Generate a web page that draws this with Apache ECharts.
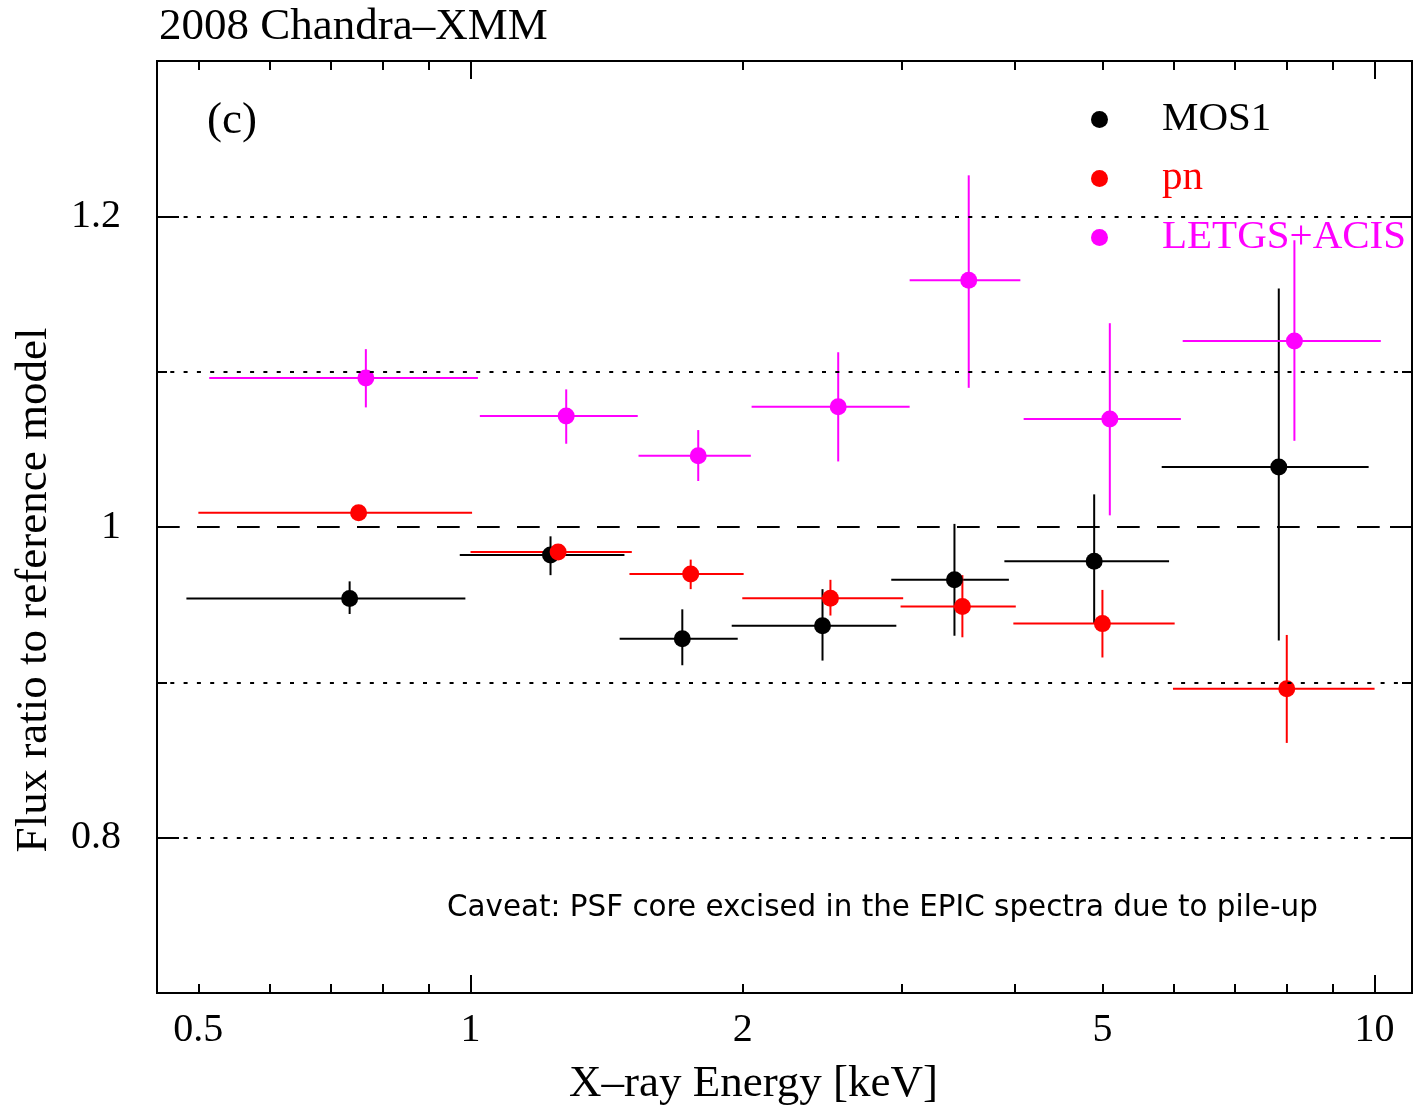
<!DOCTYPE html>
<html>
<head>
<meta charset="utf-8">
<title>2008 Chandra–XMM flux ratios</title>
<script src="https://cdn.jsdelivr.net/npm/echarts@6/dist/echarts.min.js"></script>
<style>
  html, body { margin: 0; padding: 0; background: #fff; }
  #chart { width: 1415px; height: 1105px; }
</style>
</head>
<body>
<div id="chart"></div>
<script>
// Energy bins (keV): centre, lower and upper bin edges; flux ratio with its error range.
const mos1Energy   = [0.735, 1.226, 1.715, 2.451, 3.43, 4.896, 7.835];
const mos1EnergyLo = [0.485, 0.973, 1.462, 1.945, 2.92, 3.895, 5.815];
const mos1EnergyHi = [0.987, 1.480, 1.975, 2.958, 3.94, 5.925, 9.85];
const mos1Ratio    = [0.954, 0.982, 0.928, 0.9365, 0.966, 0.978, 1.0386];
const mos1RatioLo  = [0.944, 0.969, 0.911, 0.914, 0.930, 0.938, 0.927];
const mos1RatioHi  = [0.965, 0.994, 0.947, 0.960, 1.002, 1.021, 1.1535];

const pnEnergy   = [0.752, 1.25, 1.752, 2.501, 3.5, 5.0, 7.996];
const pnEnergyLo = [0.5, 1.0, 1.499, 1.998, 2.99, 3.985, 5.984];
const pnEnergyHi = [1.004, 1.508, 2.005, 3.01, 4.01, 6.01, 10.0];
const pnRatio    = [1.0092, 0.9839, 0.9698, 0.9541, 0.9488, 0.9378, 0.8958];
const pnRatioLo  = [1.006, 0.980, 0.960, 0.943, 0.929, 0.916, 0.861];
const pnRatioHi  = [1.012, 0.988, 0.979, 0.966, 0.969, 0.9595, 0.9305];

const letgEnergy   = [0.766, 1.276, 1.786, 2.551, 3.557, 5.095, 8.153];
const letgEnergyLo = [0.514, 1.024, 1.534, 2.046, 3.06, 4.091, 6.134];
const letgEnergyHi = [1.019, 1.531, 2.042, 3.06, 4.057, 6.106, 10.16];
const letgRatio    = [1.096, 1.0714, 1.0459, 1.0774, 1.1588, 1.0695, 1.1198];
const letgRatioLo  = [1.077, 1.0536, 1.0296, 1.0422, 1.0896, 1.0075, 1.0555];
const letgRatioHi  = [1.1145, 1.0886, 1.0624, 1.1125, 1.2264, 1.1312, 1.1846];

// Axis ticks and labels
const xLabelValues = [0.5, 1, 2, 5, 10];
const xMajorTicks  = [1, 10];
const xMinorTicks  = [0.5, 0.6, 0.7, 0.8, 0.9, 2, 3, 4, 5, 6, 7, 8, 9];
const yLabelValues = [0.8, 1, 1.2];
const yMajorTicks  = [0.8, 1, 1.2];
const yMinorTicks  = [0.9, 1.1];

// Horizontal reference levels: dotted guides and the dashed unity line
const dottedLevels = [0.8, 0.9, 1.1, 1.2];
const unityLevel   = 1.0;

const SERIF = "'Liberation Serif', 'Times New Roman', serif";

function rows(e, r, elo, ehi, rlo, rhi) {
  return e.map((v, i) => [v, r[i], elo[i], ehi[i], rlo[i], rhi[i]]);
}

function renderErrorBar(params, api) {
  const x = api.value(0), y = api.value(1);
  const pL = api.coord([api.value(2), y]);
  const pR = api.coord([api.value(3), y]);
  const pB = api.coord([x, api.value(4)]);
  const pT = api.coord([x, api.value(5)]);
  const style = { stroke: api.visual('color'), lineWidth: 2 };
  return {
    type: 'group',
    children: [
      { type: 'line', shape: { x1: pL[0], y1: pL[1], x2: pR[0], y2: pR[1] }, style: style },
      { type: 'line', shape: { x1: pB[0], y1: pB[1], x2: pT[0], y2: pT[1] }, style: style }
    ]
  };
}

function errorSeries(name, color, data) {
  return {
    name: name, type: 'custom', renderItem: renderErrorBar,
    itemStyle: { color: color }, encode: { x: 0, y: 1 },
    data: data, silent: true
  };
}
function pointSeries(name, color, data) {
  return {
    name: name, type: 'scatter', symbol: 'circle', symbolSize: 17,
    itemStyle: { color: color, opacity: 1 },
    data: data.map(d => [d[0], d[1]]), silent: true
  };
}

const mos1Rows = rows(mos1Energy, mos1Ratio, mos1EnergyLo, mos1EnergyHi, mos1RatioLo, mos1RatioHi);
const pnRows   = rows(pnEnergy, pnRatio, pnEnergyLo, pnEnergyHi, pnRatioLo, pnRatioHi);
const letgRows = rows(letgEnergy, letgRatio, letgEnergyLo, letgEnergyHi, letgRatioLo, letgRatioHi);

const frameLine = { show: true, lineStyle: { color: '#000', width: 2 } };

function xAxisDef(position, ticks, len, withLabels) {
  const ax = {
    type: 'log', logBase: 10, min: 0.45, max: 11, position: position,
    axisLine: frameLine,
    axisTick: { show: true, inside: true, length: len, customValues: ticks,
                lineStyle: { color: '#000', width: 2 } },
    axisLabel: { show: false },
    splitLine: { show: false }, minorTick: { show: false }
  };
  if (withLabels) {
    ax.axisLabel = { show: true, customValues: xLabelValues, margin: 17,
                     color: '#000', fontFamily: SERIF, fontSize: 40 };
    ax.name = 'X\u2013ray Energy [keV]';
    ax.nameLocation = 'middle';
    ax.nameGap = 69;
    ax.nameTextStyle = { color: '#000', fontFamily: SERIF, fontSize: 45, padding: [0, 62, 0, 0] };
  }
  return ax;
}
function yAxisDef(position, ticks, len, withLabels) {
  const ax = {
    type: 'value', min: 0.7, max: 1.3, position: position,
    axisLine: frameLine,
    axisTick: { show: true, inside: true, length: len, customValues: ticks,
                lineStyle: { color: '#000', width: 2 } },
    axisLabel: { show: false },
    splitLine: { show: false }
  };
  if (withLabels) {
    ax.axisLabel = { show: true, customValues: yLabelValues, margin: 36,
                     color: '#000', fontFamily: SERIF, fontSize: 40 };
    ax.name = 'Flux ratio to reference model';
    ax.nameLocation = 'middle';
    ax.nameGap = 100;
    ax.nameTextStyle = { color: '#000', fontFamily: SERIF, fontSize: 45, padding: [0, 126, 0, 0] };
  }
  return ax;
}

const option = {
  animation: false,
  backgroundColor: '#fff',
  title: [
    { text: '2008 Chandra\u2013XMM', left: 154, top: 0,
      textStyle: { color: '#000', fontFamily: SERIF, fontSize: 45, fontWeight: 'normal' } },
    { text: '(c)', left: 202, top: 94,
      textStyle: { color: '#000', fontFamily: SERIF, fontSize: 45, fontWeight: 'normal' } },
    { text: 'Caveat: PSF core excised in the EPIC spectra due to pile-up', left: 442, top: 889,
      textStyle: { color: '#000', fontFamily: "'DejaVu Sans', sans-serif", fontSize: 29.4, fontWeight: 'normal' } }
  ],
  legend: {
    orient: 'vertical', left: 1086, top: 94, itemWidth: 17, itemHeight: 17, itemGap: 18,
    icon: 'circle', selectedMode: false,
    textStyle: { fontFamily: SERIF, fontSize: 41, padding: [0, 0, 0, 49] },
    data: [
      { name: 'MOS1', textStyle: { color: '#000' } },
      { name: 'pn', textStyle: { color: '#ff0000' } },
      { name: 'LETGS+ACIS', textStyle: { color: '#ff00ff' } }
    ]
  },
  grid: { left: 157, right: 3, top: 61, bottom: 112, containLabel: false, outerBoundsMode: 'none' },
  xAxis: [
    xAxisDef('bottom', xMajorTicks, 18, true),
    xAxisDef('bottom', xMinorTicks, 9, false),
    xAxisDef('top', xMajorTicks, 18, false),
    xAxisDef('top', xMinorTicks, 9, false)
  ],
  yAxis: [
    yAxisDef('left', yMajorTicks, 22, true),
    yAxisDef('left', yMinorTicks, 10, false),
    yAxisDef('right', yMajorTicks, 22, false),
    yAxisDef('right', yMinorTicks, 10, false)
  ],
  series: [
    {
      name: 'levels', type: 'line', data: [], silent: true,
      markLine: {
        silent: true, symbol: 'none', label: { show: false }, animation: false,
        data: dottedLevels.map(v => ({ yAxis: v, lineStyle: { color: '#000', width: 2, type: [4, 9.3] } }))
          .concat([{ yAxis: unityLevel, lineStyle: { color: '#000', width: 2, type: [22.7, 17.3] } }])
      }
    },
    errorSeries('MOS1', '#000000', mos1Rows),
    pointSeries('MOS1', '#000000', mos1Rows),
    errorSeries('pn', '#ff0000', pnRows),
    pointSeries('pn', '#ff0000', pnRows),
    errorSeries('LETGS+ACIS', '#ff00ff', letgRows),
    pointSeries('LETGS+ACIS', '#ff00ff', letgRows)
  ]
};

const chart = echarts.init(document.getElementById('chart'), null, { renderer: 'canvas' });
chart.setOption(option);
</script>
</body>
</html>
